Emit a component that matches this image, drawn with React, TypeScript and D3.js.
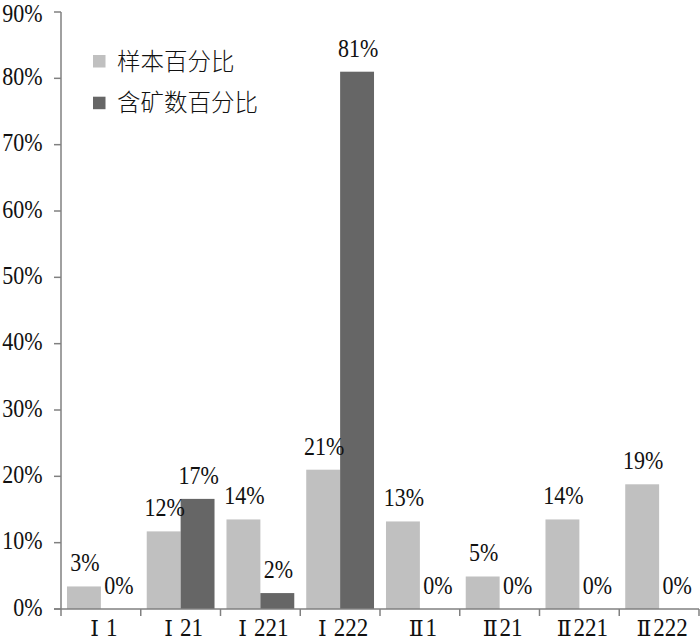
import React from "react";
import * as d3 from "d3";

const categories = ["Ⅰ1", "Ⅰ21", "Ⅰ221", "Ⅰ222", "Ⅱ1", "Ⅱ21", "Ⅱ221", "Ⅱ222"];
const seriesNames = ["样本百分比", "含矿数百分比"];
const sampleValues = [3.4, 11.7, 13.5, 21.0, 13.2, 4.9, 13.5, 18.8];
const oreValues = [0, 16.6, 2.4, 81.0, 0, 0, 0, 0];
const yTicks = [0, 10, 20, 30, 40, 50, 60, 70, 80, 90];
const colors = ["#c0c0c0", "#666666"];

const W = 700;
const H = 643;
const left = 61;
const right = 699;
const top = 12;
const bottom = 609;
const serif = "'Liberation Serif', 'Times New Roman', serif";
const axisColor = "#808080";
const sy = 1.17;

function SText(props: { x: number; y: number; anchor: string; dy?: string; children: any }) {
  return (
    <text
      transform={`translate(${props.x},${props.y}) scale(1,${sy})`}
      dy={props.dy || "0"}
      textAnchor={props.anchor}
      fontFamily={serif}
      fontSize={22}
      fill="#111"
    >
      {props.children}
    </text>
  );
}

export default function App() {
  const y = d3.scaleLinear().domain([0, 90]).range([bottom, top]);
  const x0 = d3.scaleBand<string>().domain(categories).range([left, right]).padding(0);
  const bw = x0.bandwidth();
  const x1 = d3
    .scaleBand<string>()
    .domain(seriesNames)
    .range([bw * 0.075, bw * 0.925])
    .padding(0);
  const series = [sampleValues, oreValues];

  return (
    <div style={{ position: "absolute", left: 0, top: 0 }}>
      <svg width={W} height={H} style={{ display: "block", background: "#fff" }}>
        {/* bars */}
        {categories.map((c, i) =>
          series.map((vals, s) => (
            <rect
              key={c + s}
              x={(x0(c) as number) + (x1(seriesNames[s]) as number)}
              y={y(vals[i])}
              width={x1.bandwidth()}
              height={bottom - y(vals[i])}
              fill={colors[s]}
            />
          ))
        )}
        {/* value labels */}
        {categories.map((c, i) =>
          series.map((vals, s) => (
            <SText
              key={"l" + c + s}
              x={(x0(c) as number) + (x1(seriesNames[s]) as number) + x1.bandwidth() / 2 + 1}
              y={y(vals[i]) - 15}
              anchor="middle"
            >
              {Math.round(vals[i]) + "%"}
            </SText>
          ))
        )}
        {/* y axis */}
        <line x1={left} x2={left} y1={top} y2={bottom} stroke={axisColor} strokeWidth={1.5} />
        {yTicks.map((t) => (
          <g key={"y" + t}>
            <line x1={left - 7} x2={left} y1={y(t)} y2={y(t)} stroke={axisColor} strokeWidth={1.5} />
            <SText x={42.5} y={t === 90 ? y(t) + 1 : y(t) - 2} anchor="end" dy="0.34em">
              {t + "%"}
            </SText>
          </g>
        ))}
        {/* x axis */}
        <line x1={left - 7} x2={right} y1={bottom} y2={bottom} stroke={axisColor} strokeWidth={1.5} />
        {categories.map((c) => (
          <line
            key={"xt" + c}
            x1={x0(c) as number}
            x2={x0(c) as number}
            y1={bottom}
            y2={bottom + 7}
            stroke={axisColor}
            strokeWidth={1.5}
          />
        ))}
        <line x1={right} x2={right} y1={bottom} y2={bottom + 7} stroke={axisColor} strokeWidth={1.5} />
        {categories.map((c) => (
          <text
            key={"xl" + c}
            transform={`translate(${(x0(c) as number) + bw / 2 + 3},636) scale(1,1.05)`}
            textAnchor="middle"
            fontFamily={serif}
            fontSize={23}
            fill="#111"
          >
            <tspan fontFamily="'DejaVu Serif', serif" fontSize={22}>
              {c[0]}
            </tspan>
            <tspan dx={c[0] === "Ⅰ" ? 7 : 2}>{c.slice(1)}</tspan>
          </text>
        ))}
        {/* legend */}
        {seriesNames.map((n, s) => (
          <g key={"lg" + n} transform={`translate(93, ${55 + s * 41.7})`}>
            <rect x={0} y={0} width={12.5} height={12.5} fill={colors[s]} />
            <text
              x={24}
              y={6.5}
              dy="0.35em"
              fontFamily="'Noto Sans CJK SC', sans-serif"
              fontSize={23.5}
              fontWeight={300}
              fill="#111"
            >
              {n}
            </text>
          </g>
        ))}
      </svg>
    </div>
  );
}
